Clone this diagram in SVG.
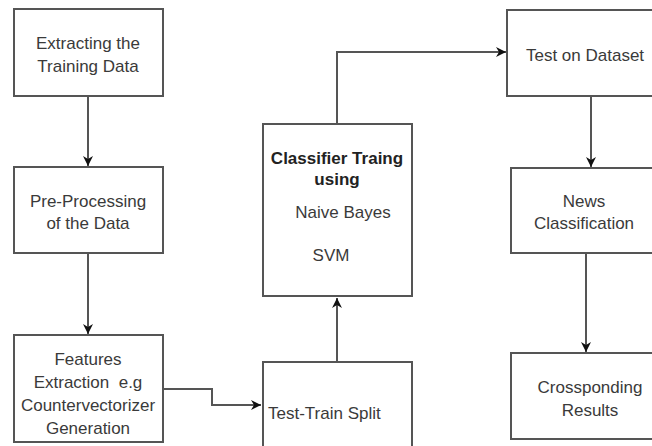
<svg xmlns="http://www.w3.org/2000/svg" width="652" height="446" viewBox="0 0 652 446">
<defs>
<marker id="arr" viewBox="0 0 10 10" refX="10" refY="5" markerWidth="10" markerHeight="10" markerUnits="userSpaceOnUse" orient="auto">
<path d="M0,0 L10,5 L0,10 L3,5 z" fill="#111"/>
</marker>
</defs>
<style>
.box{fill:#fff;stroke:#555;stroke-width:2}
.t{font-family:"Liberation Sans",Arial,sans-serif;font-size:17px;fill:#3a3a3a;text-anchor:middle}
.b{font-weight:bold;fill:#222}
.c{fill:none;stroke:#555;stroke-width:2;marker-end:url(#arr)}
</style>
<rect width="652" height="446" fill="#fff"/>
<g id="connectors">
<path class="c" d="M88,96 V166"/>
<path class="c" d="M88,253 V334"/>
<path class="c" d="M163,389 H212 V405 H261"/>
<path class="c" d="M337,362 V298"/>
<path class="c" d="M337,124 V52 H506"/>
<path class="c" d="M591,96 V167"/>
<path class="c" d="M586,253 V352"/>
</g>
<g id="extract">
<rect class="box" x="14" y="9" width="149" height="87"/>
<text class="t" x="88" y="49">Extracting the</text>
<text class="t" x="88" y="72">Training Data</text>
</g>
<g id="preprocess">
<rect class="box" x="14" y="167" width="149" height="86"/>
<text class="t" x="88" y="207">Pre-Processing</text>
<text class="t" x="88" y="229">of the Data</text>
</g>
<g id="features">
<rect class="box" x="14" y="335" width="149" height="107"/>
<text class="t" x="88" y="365">Features</text>
<text class="t" x="88" y="388" xml:space="preserve">Extraction  e.g</text>
<text class="t" x="88" y="411">Countervectorizer</text>
<text class="t" x="88" y="434">Generation</text>
</g>
<g id="split">
<rect class="box" x="263" y="362" width="149" height="100"/>
<text class="t" x="268" y="419" style="text-anchor:start">Test-Train Split</text>
</g>
<g id="classifier">
<rect class="box" x="263" y="124" width="149" height="172"/>
<text class="t b" x="337" y="164">Classifier Traing</text>
<text class="t b" x="337" y="185">using</text>
<text class="t" x="343" y="218">Naive Bayes</text>
<text class="t" x="331" y="261">SVM</text>
</g>
<g id="testdata">
<rect class="box" x="507" y="10" width="170" height="86"/>
<text class="t" x="585" y="61">Test on Dataset</text>
</g>
<g id="news">
<rect class="box" x="511" y="168" width="170" height="85"/>
<text class="t" x="584" y="207">News</text>
<text class="t" x="584" y="229">Classification</text>
</g>
<g id="results">
<rect class="box" x="511" y="353" width="170" height="86"/>
<text class="t" x="590" y="393">Crossponding</text>
<text class="t" x="590" y="416">Results</text>
</g>
</svg>
